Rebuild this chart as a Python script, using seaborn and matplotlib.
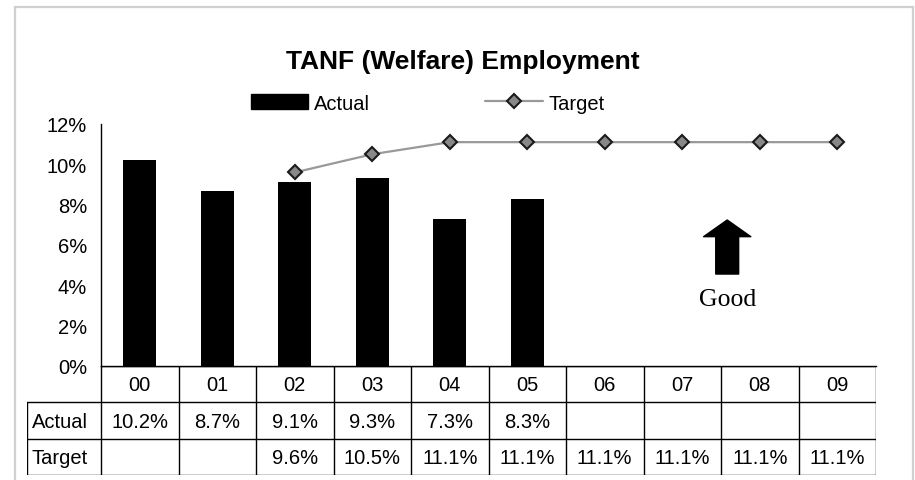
import numpy as np
import pandas as pd
import matplotlib
matplotlib.use("Agg")
import matplotlib.pyplot as plt
from matplotlib.patches import Patch, Rectangle
from matplotlib.lines import Line2D
import seaborn as sns

# ---- data ----
years = ["00", "01", "02", "03", "04", "05", "06", "07", "08", "09"]
actual = [10.2, 8.7, 9.1, 9.3, 7.3, 8.3, np.nan, np.nan, np.nan, np.nan]
target = [np.nan, np.nan, 9.6, 10.5, 11.1, 11.1, 11.1, 11.1, 11.1, 11.1]
yticks = [0, 2, 4, 6, 8, 10, 12]
title = "TANF (Welfare) Employment"
row_labels = ["Actual", "Target"]

sns.set_style("white")
plt.rcParams["font.family"] = ["Liberation Sans", "DejaVu Sans"]
plt.rcParams["text.color"] = "black"
plt.rcParams["axes.labelcolor"] = "black"
plt.rcParams["xtick.color"] = "black"
plt.rcParams["ytick.color"] = "black"

W, H = 915, 481
fig = plt.figure(figsize=(W / 100, H / 100), dpi=100)

def fx(px):
    return px / W

def fy(py):
    return 1 - py / H

# main axes
ax_l, ax_r, ax_t, ax_b = 101, 876, 125, 367
ax = fig.add_axes([fx(ax_l), fy(ax_b), fx(ax_r - ax_l), (ax_b - ax_t) / H])

df = pd.DataFrame({"year": years, "Actual": actual, "Target": target})
sns.barplot(data=df, x="year", y="Actual", order=years, color="black",
            width=0.43, ax=ax, saturation=1, linewidth=0)
pos = np.arange(len(years))
sns.lineplot(x=pos, y=df["Target"], ax=ax, color="#999999", linewidth=1.6,
             marker="D", markersize=7, markerfacecolor="#888888",
             markeredgecolor="#1a1a1a", markeredgewidth=1.5)

ax.set_xlim(-0.5, len(years) - 0.5)
ax.set_ylim(0, 12)
ax.set_yticks(yticks)
ax.set_yticklabels([f"{v}%" for v in yticks])
ax.tick_params(axis="y", direction="inout", length=9, width=1, color="#333333",
               labelsize=14.5, pad=5.5, labelcolor="black")
ax.tick_params(axis="x", bottom=False, labelbottom=False)
ax.set_xlabel("")
ax.set_ylabel("")
for s in ["top", "right"]:
    ax.spines[s].set_visible(False)
ax.spines["left"].set_color("black")
ax.spines["bottom"].set_color("black")
ax.spines["left"].set_linewidth(1)
ax.spines["bottom"].set_linewidth(1)
ax.patch.set_alpha(0)

# Good arrow + label
ax.annotate("", xy=(7.58, 7.24), xytext=(7.58, 4.56),
            arrowprops=dict(arrowstyle="simple,head_width=34,head_length=12,tail_width=16.5",
                            mutation_scale=1, color="black", shrinkA=0, shrinkB=0))
ax.text(7.58, 3.32, "Good", ha="center", va="center", fontsize=18.5,
        family=["Liberation Serif", "DejaVu Serif"], color="black")

# table axes
tb_l, tb_r, tb_t, tb_b = 27, 876, 367, 476
unit = (ax_r - ax_l) / len(years)
x0 = -0.5 - (ax_l - tb_l) / unit
tax = fig.add_axes([fx(tb_l), fy(tb_b), fx(tb_r - tb_l), (tb_b - tb_t) / H])
tax.set_xlim(x0, len(years) - 0.5)
tax.set_ylim(3, 0)
tax.axis("off")
lc = "black"
lw = 1
xe = len(years) - 0.5
tax.plot([-0.5, xe], [0, 0], color=lc, lw=lw)
tax.plot([x0, xe], [1, 1], color=lc, lw=lw)
tax.plot([x0, xe], [2, 2], color=lc, lw=lw)
tax.plot([x0, xe], [3, 3], color=lc, lw=lw)
tax.plot([-0.5, -0.5], [0, 3], color=lc, lw=lw)
tax.plot([x0, x0], [1, 3], color=lc, lw=lw)
for k in range(1, len(years) + 1):
    tax.plot([k - 0.5, k - 0.5], [0, 3], color=lc, lw=lw)
for i, y in enumerate(years):
    tax.text(i, 0.52, y, ha="center", va="center", fontsize=14.5)
    if not np.isnan(actual[i]):
        tax.text(i, 1.52, f"{actual[i]:.1f}%", ha="center", va="center", fontsize=14.5)
    if not np.isnan(target[i]):
        tax.text(i, 2.52, f"{target[i]:.1f}%", ha="center", va="center", fontsize=14.5)
for r, lab in enumerate(row_labels):
    tax.text(x0 + 0.06, 1.52 + r, lab, ha="left", va="center", fontsize=14.5)

# title
fig.text(fx(463), fy(62), title, ha="center", va="center", fontsize=19,
         fontweight="bold")

# legend
handles = [Patch(facecolor="black", edgecolor="black"),
           Line2D([0], [0], color="#999999", lw=1.6, marker="D", markersize=7,
                  markerfacecolor="#888888", markeredgecolor="#1a1a1a",
                  markeredgewidth=1.5)]
fig.legend(handles, ["Actual", "Target"], loc="center left",
           bbox_to_anchor=(fx(251), fy(104)), ncol=2, frameon=False,
           fontsize=14.5, handlelength=2.85, handletextpad=0.3,
           columnspacing=5.7, borderaxespad=0, borderpad=0)

# outer chart border (open at bottom)
fig.patches.append(Rectangle((fx(15), fy(490)), fx(913 - 15), (490 - 8) / H,
                             transform=fig.transFigure, fill=False,
                             edgecolor="#d0d0d0", linewidth=1.6, zorder=0))

fig.savefig("out.png", dpi=100)
